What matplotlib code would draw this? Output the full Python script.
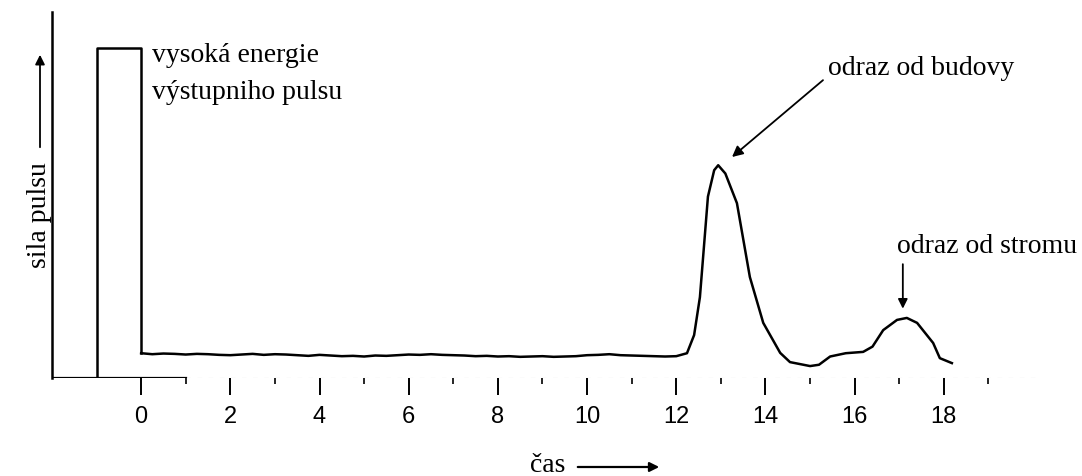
import numpy as np
import matplotlib.pyplot as plt
from matplotlib import rcParams

rcParams['font.family'] = ['Liberation Serif', 'DejaVu Serif']

# vysílaný pulz
pulse_t = [-2.0, -1.0, -1.0, 0.0, 0.0]
pulse_a = [0.0, 0.0, 1.0, 1.0, 0.075]

# přijatý signál
trace_t = [0.0, 0.25, 0.5, 0.75, 1.0, 1.25, 1.5, 1.75, 2.0, 2.25, 2.5, 2.75,
           3.0, 3.25, 3.5, 3.75, 4.0, 4.25, 4.5, 4.75, 5.0, 5.25, 5.5, 5.75,
           6.0, 6.25, 6.5, 6.75, 7.0, 7.25, 7.5, 7.75, 8.0, 8.25, 8.5, 8.75,
           9.0, 9.25, 9.5, 9.75, 10.0, 10.25, 10.5, 10.75, 11.0, 11.25, 11.5,
           11.75, 12.0, 12.24, 12.4, 12.53, 12.71, 12.85, 12.94, 13.1, 13.36,
           13.65, 13.95, 14.33, 14.55, 15.0, 15.2, 15.45, 15.8, 16.19, 16.4,
           16.64, 16.95, 17.17, 17.4, 17.76, 17.91, 18.18]
trace_a = [0.075, 0.072, 0.074, 0.073, 0.071, 0.073, 0.072, 0.070, 0.069,
           0.071, 0.073, 0.070, 0.072, 0.071, 0.069, 0.067, 0.070, 0.068,
           0.066, 0.067, 0.065, 0.068, 0.067, 0.069, 0.071, 0.070, 0.072,
           0.070, 0.069, 0.068, 0.066, 0.067, 0.065, 0.066, 0.064, 0.065,
           0.066, 0.064, 0.065, 0.066, 0.069, 0.070, 0.072, 0.069, 0.068,
           0.067, 0.066, 0.065, 0.066, 0.075, 0.13, 0.245, 0.55, 0.63, 0.645,
           0.62, 0.53, 0.306, 0.167, 0.076, 0.048, 0.036, 0.040, 0.065, 0.075,
           0.079, 0.095, 0.145, 0.176, 0.182, 0.167, 0.106, 0.06, 0.045]

major = np.arange(0, 19, 2)
minor = np.arange(1, 20, 2)

fig = plt.figure(figsize=(10.82, 4.76), dpi=100)
ax = fig.add_axes([0.048, 0.206, 0.915, 0.769])

ax.plot(pulse_t, pulse_a, color='black', lw=1.8)
ax.plot(trace_t, trace_a, color='black', lw=1.8)

ax.set_xlim(-2, 20.2)
ax.set_ylim(0, 1.11)

for s in ['top', 'right', 'bottom']:
    ax.spines[s].set_visible(False)
ax.spines['left'].set_linewidth(1.8)
ax.axhline(0, xmin=0, xmax=3 / 22.2, color='black', lw=1.6)
ax.axhline(0, xmin=3 / 22.2, xmax=1.0, color='0.75', lw=0.8, ls=(0, (4, 6)))

ax.set_yticks([])
ax.set_xticks(major)
ax.set_xticks(minor, minor=True)
ax.tick_params(axis='x', which='major', direction='out', length=12, width=1.4,
               pad=8, labelsize=17)
ax.tick_params(axis='x', which='minor', direction='out', length=4, width=1.2)
for lab in ax.get_xticklabels():
    lab.set_family(['Liberation Sans', 'DejaVu Sans'])

ax.text(0.25, 0.958, 'vysoká energie', fontsize=20, va='baseline', ha='left')
ax.text(0.25, 0.845, 'výstupniho pulsu', fontsize=20, va='baseline', ha='left')

ax.text(15.4, 0.918, 'odraz od budovy', fontsize=20, va='baseline', ha='left')
ax.annotate('', xy=(13.25, 0.67), xytext=(15.29, 0.903),
            arrowprops=dict(arrowstyle='-|>', color='black', lw=1.3,
                            shrinkA=0, shrinkB=0, mutation_scale=16))
ax.text(16.95, 0.379, 'odraz od stromu', fontsize=20, va='baseline', ha='left')
ax.annotate('', xy=(17.08, 0.21), xytext=(17.08, 0.345),
            arrowprops=dict(arrowstyle='-|>', color='black', lw=1.3,
                            shrinkA=0, shrinkB=0, mutation_scale=14))

# popisky os se šipkami
fig.text(40 / 1082, 1 - 215 / 476, 'sila pulsu', rotation=90, fontsize=20,
         ha='center', va='center')
ax.annotate('', xy=(40 / 1082, 1 - 52 / 476), xytext=(40 / 1082, 1 - 150 / 476),
            xycoords='figure fraction', annotation_clip=False,
            arrowprops=dict(arrowstyle='-|>', color='black', lw=1.3,
                            mutation_scale=14))
fig.text(548 / 1082, 1 - 465 / 476, 'čas', fontsize=20, ha='center', va='center')
ax.annotate('', xy=(662 / 1082, 1 - 467 / 476), xytext=(575 / 1082, 1 - 467 / 476),
            xycoords='figure fraction', annotation_clip=False,
            arrowprops=dict(arrowstyle='-|>', color='black', lw=1.6,
                            mutation_scale=14))

fig.savefig('out.png', dpi=100)
